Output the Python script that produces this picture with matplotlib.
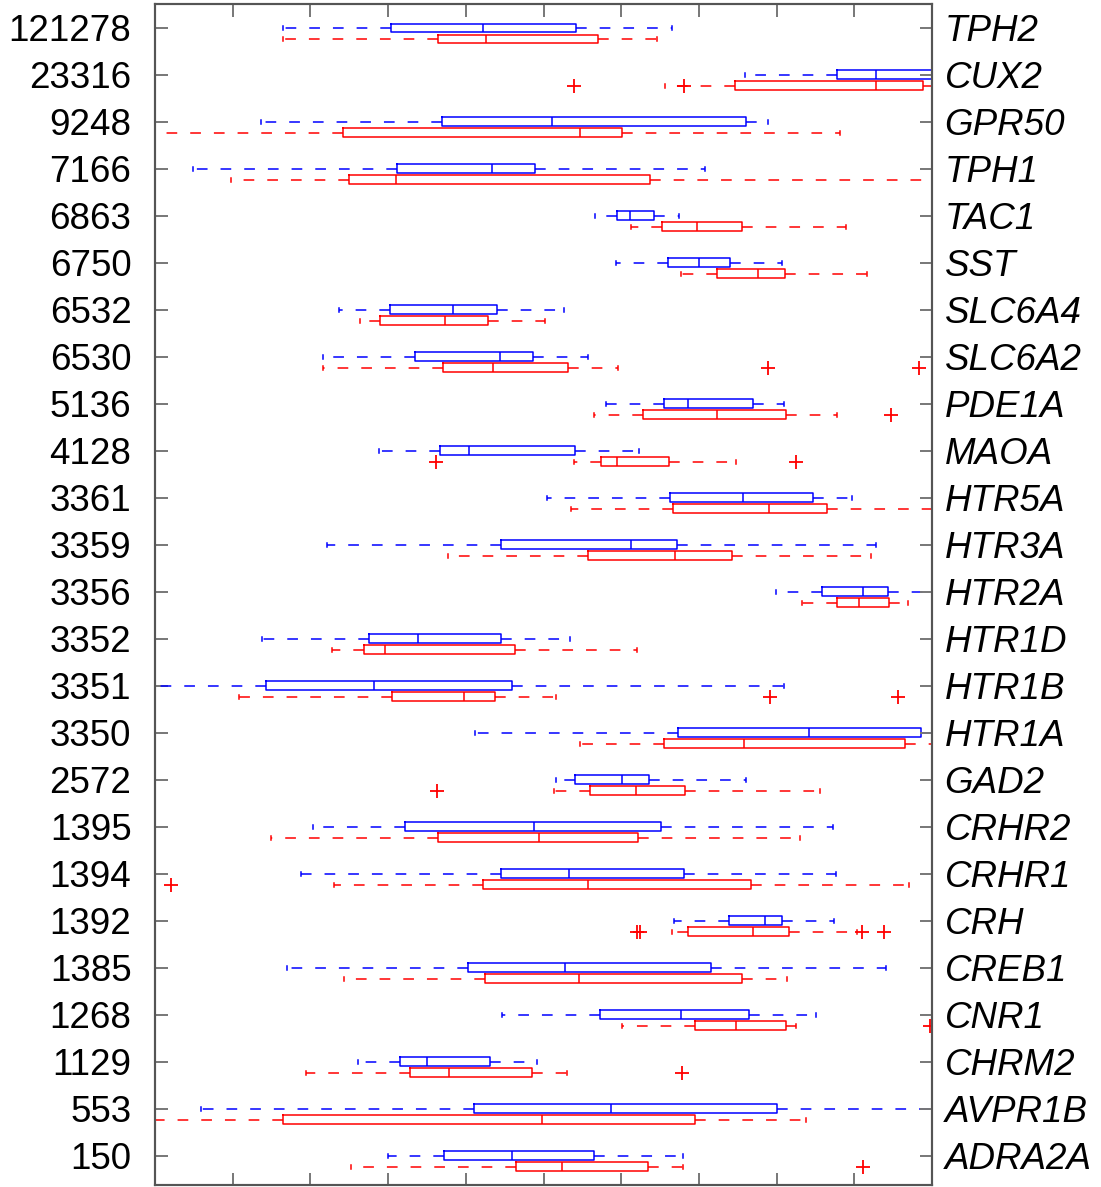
import matplotlib.pyplot as plt
import numpy as np

plt.rcParams['font.family'] = ['Liberation Sans', 'DejaVu Sans']

# gene ids (left) and gene symbols (right), top to bottom
gene_ids = ['121278', '23316', '9248', '7166', '6863', '6750', '6532', '6530',
            '5136', '4128', '3361', '3359', '3356', '3352', '3351', '3350',
            '2572', '1395', '1394', '1392', '1385', '1268', '1129', '553', '150']
genes = ['TPH2', 'CUX2', 'GPR50', 'TPH1', 'TAC1', 'SST', 'SLC6A4', 'SLC6A2',
         'PDE1A', 'MAOA', 'HTR5A', 'HTR3A', 'HTR2A', 'HTR1D', 'HTR1B', 'HTR1A',
         'GAD2', 'CRHR2', 'CRHR1', 'CRH', 'CREB1', 'CNR1', 'CHRM2', 'AVPR1B', 'ADRA2A']

# blue group: lower whisker, q1, median, q3, upper whisker
blue_lo = [1.65, 7.59, 1.36, 0.49, 5.66, 5.93, 2.37, 2.16, 5.80, 2.88, 5.05, 2.21, 7.99,
           1.38, -0.3, 4.12, 5.16, 2.03, 1.88, 6.68, 1.70, 4.47, 2.61, 0.59, 3.00]
blue_q1 = [3.04, 8.78, 3.69, 3.11, 5.95, 6.60, 3.02, 3.35, 6.55, 3.67, 6.63, 4.45, 8.58,
           2.75, 1.43, 6.73, 5.41, 3.22, 4.45, 7.39, 4.03, 5.73, 3.15, 4.11, 3.72]
blue_med = [4.22, 9.28, 5.11, 4.34, 6.11, 7.00, 3.84, 4.44, 6.86, 4.04, 7.57, 6.13, 9.11,
            3.38, 2.82, 8.42, 6.01, 4.88, 5.33, 7.85, 5.28, 6.77, 3.50, 5.87, 4.59]
blue_q3 = [5.42, 10.4, 7.61, 4.89, 6.42, 7.40, 4.40, 4.86, 7.70, 5.41, 8.47, 6.72, 9.43,
           4.45, 4.59, 9.86, 6.36, 6.51, 6.81, 8.07, 7.16, 7.64, 4.31, 8.01, 5.65]
blue_hi = [6.65, 10.9, 7.89, 7.08, 6.74, 8.07, 5.26, 5.57, 8.10, 6.23, 8.97, 9.28, 10.1,
           5.34, 8.10, 10.15, 7.61, 8.73, 8.76, 8.74, 9.41, 8.51, 4.92, 10.2, 6.80]

# red group
red_lo = [1.65, 6.56, -0.3, 0.98, 6.13, 6.77, 2.64, 2.16, 5.65, 5.39, 5.35, 3.77, 8.33,
          2.28, 1.08, 5.47, 5.14, 1.49, 2.30, 6.65, 2.43, 6.01, 1.94, -0.3, 2.52]
red_q1 = [3.64, 7.46, 2.42, 2.50, 6.53, 7.23, 2.90, 3.71, 6.28, 5.74, 6.67, 5.57, 8.78,
          2.69, 3.05, 6.55, 5.60, 3.64, 4.22, 6.86, 4.25, 6.95, 3.28, 1.65, 4.65]
red_med = [4.26, 9.28, 5.47, 3.10, 6.98, 7.76, 3.73, 4.35, 7.23, 5.95, 7.90, 6.69, 9.06,
           2.96, 3.98, 7.58, 6.19, 4.94, 5.57, 7.70, 5.46, 7.48, 3.78, 4.98, 5.24]
red_q3 = [5.70, 9.88, 6.01, 6.37, 7.55, 8.11, 4.29, 5.32, 8.12, 6.62, 8.65, 7.43, 9.45,
          4.63, 4.38, 9.65, 6.82, 6.22, 7.67, 8.16, 7.55, 8.12, 4.85, 6.95, 6.34]
red_hi = [6.46, 10.2, 8.82, 10.2, 8.89, 9.16, 5.02, 5.96, 8.78, 7.48, 10.3, 9.21, 9.69,
          6.20, 5.16, 10.2, 8.56, 8.30, 9.70, 9.03, 8.13, 8.25, 5.30, 8.38, 6.80]
red_out = [[], [5.39, 6.81], [], [], [], [], [], [7.89, 9.83],
           [9.47], [3.62, 8.25], [], [], [], [], [7.92, 9.56], [],
           [3.63], [], [0.21], [6.20, 6.24, 9.10, 9.38], [], [9.97], [6.78], [], [9.11]]


def make_stats(lo, q1, med, q3, hi, out=None):
    stats = []
    for i in range(len(lo)):
        stats.append(dict(whislo=lo[i], q1=q1[i], med=med[i], q3=q3[i], whishi=hi[i],
                          fliers=out[i] if out else []))
    return stats


def draw_group(ax, stats, pos, c):
    ax.bxp(stats, positions=pos, widths=0.19, orientation='horizontal',
           capwidths=0.085, manage_ticks=False,
           boxprops=dict(color=c, lw=1.1),
           medianprops=dict(color=c, lw=1.1),
           whiskerprops=dict(color=c, lw=1.1, linestyle=(0, (7, 8.5))),
           capprops=dict(color=c, lw=1.1),
           flierprops=dict(marker='+', markeredgecolor=c, markersize=10,
                           markeredgewidth=1.3, linestyle='none'))


fig = plt.figure(figsize=(11.01, 11.87), dpi=100)
ax = fig.add_axes([155 / 1101, 2 / 1187, 777 / 1101, 1181 / 1187])

pos = np.arange(len(genes))
draw_group(ax, make_stats(blue_lo, blue_q1, blue_med, blue_q3, blue_hi), pos, 'blue')
draw_group(ax, make_stats(red_lo, red_q1, red_med, red_q3, red_hi, red_out), pos + 0.234, 'red')

ax.set_xlim(0, 10)
ax.set_ylim(24.62, -0.51)
ax.set_xticks(np.arange(0, 11))
ax.set_yticks(pos, gene_ids, fontsize=26.5)
ax.tick_params(axis='x', top=True, bottom=True, direction='in', length=9,
               width=1.4, color='#777777', labelbottom=False)
ax.tick_params(axis='y', left=True, right=False, direction='in', length=9,
               width=1.4, color='#777777', pad=17)

ax2 = ax.twinx()
ax2.set_ylim(ax.get_ylim())
ax2.set_yticks(pos, genes, fontsize=26.5, fontstyle='italic')
ax2.tick_params(axis='y', direction='in', length=9, width=1.4, color='#777777', pad=9)

for a in (ax, ax2):
    for s in a.spines.values():
        s.set_color('#555555')
        s.set_linewidth(1.5)

fig.savefig('out.png', dpi=100)
